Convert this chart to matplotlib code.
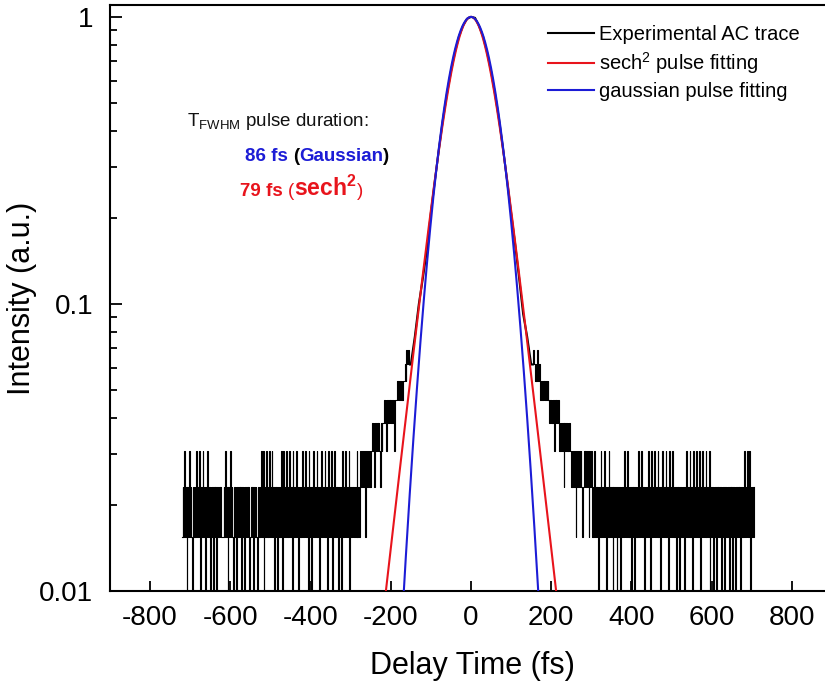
import numpy as np
import matplotlib.pyplot as plt
from matplotlib.lines import Line2D
from matplotlib.ticker import LogLocator, NullFormatter

plt.rcParams['font.family'] = ['Liberation Sans', 'DejaVu Sans']
plt.rcParams['mathtext.fontset'] = 'custom'
plt.rcParams['mathtext.rm'] = 'Liberation Sans'
plt.rcParams['mathtext.bf'] = 'Liberation Sans:bold'
plt.rcParams['axes.unicode_minus'] = False

# measured AC trace, in detector counts (peak ~130 counts)
counts_full_scale = 130.0

wing_step = 2  # fs between samples in the wings / shoulders
left_wing_start = -720
left_wing = ("23242313" "24232132" "32423241" "32423132" "42313231" "32313232"
             "32223242" "31324232" "13231323" "23132313" "23231232" "31323213"
             "23242413" "24232423" "42313231" "32324142" "32423242" "31423242"
             "31323242" "32423142" "31324232" "42313242" "32423142" "32413242"
             "32313231" "42324232" "41323232" "32423243")
left_shoulder_start = -272
left_shoulder = ("343423434343" "454535454543545" "5656465656565646"
                 "6767676767" "78798988")

center_step = 10
center_start = -150
center = [8, 10, 13, 16, 20, 27, 35, 45, 57, 70, 84, 98, 111, 121, 128, 130,
          129, 121, 111, 98, 84, 70, 57, 45, 35, 27, 21, 16, 12, 10, 8]

right_shoulder_start = 154
right_shoulder = ("898787978" "767676767676" "565656465656"
                  "454545354545454" "3434342343434323434343243")
right_wing_start = 300
right_wing = ("42324232" "31324232" "42313242" "32313232" "13231323" "24232423"
              "23132313" "23242324" "23132324" "23142324" "23242313" "24232423"
              "14232423" "23132313" "23231324" "23242314" "23242324" "13242324"
              "23241323" "13231323" "23132313" "23231323" "13231323" "23132324"
              "23242413" "2323")

# fit results (autocorrelation FWHM, fs)
fwhm_ac_gauss = 130.0
fwhm_ac_sech2 = 125.0


def segment(start, step, values):
    vals = np.array([int(v) for v in values], dtype=float) / counts_full_scale
    t = start + step * np.arange(len(vals))
    return t, vals


t_lw, i_lw = segment(left_wing_start, wing_step, left_wing)
t_ls, i_ls = segment(left_shoulder_start, wing_step, left_shoulder)
t_c, i_c = segment(center_start, center_step, center)
t_rs, i_rs = segment(right_shoulder_start, wing_step, right_shoulder)
t_rw, i_rw = segment(right_wing_start, wing_step, right_wing)

t_fit = np.linspace(-320, 320, 1601)
gauss_fit = np.exp(-4 * np.log(2) * (t_fit / fwhm_ac_gauss) ** 2)
sech2_fit = 1.0 / np.cosh(1.7627 * t_fit / fwhm_ac_sech2) ** 2

red = '#e8141c'
blue = '#1c1cd6'

W, H = 825, 692
fig = plt.figure(figsize=(W / 100, H / 100), dpi=100)
ax = fig.add_axes([110 / W, 1 - 591 / H, (832 - 110) / W, (591 - 5) / H])

# noisy wings drawn as steps, smooth centre as a plain line
ax.plot(np.concatenate([t_lw, t_ls]), np.concatenate([i_lw, i_ls]),
        color='black', lw=0.8, drawstyle='steps-mid', zorder=2)
ax.plot(np.concatenate([t_ls[-1:], t_c, t_rs[:1]]),
        np.concatenate([i_ls[-1:], i_c, i_rs[:1]]), color='black', lw=1.5, zorder=2)
ax.plot(np.concatenate([t_rs, t_rw]), np.concatenate([i_rs, i_rw]),
        color='black', lw=0.8, drawstyle='steps-mid', zorder=2)
ax.plot(t_fit, sech2_fit, color=red, lw=1.5, zorder=3)
ax.plot(t_fit, gauss_fit, color=blue, lw=1.5, zorder=4)

ax.set_yscale('log')
ax.set_ylim(0.01, 1.1)
ax.set_xlim(-900, 900)
ax.set_yticks([0.01, 0.1, 1], ['0.01', '0.1', '1'])
ax.yaxis.set_minor_locator(LogLocator(base=10, subs=np.arange(2, 10)))
ax.yaxis.set_minor_formatter(NullFormatter())
ax.set_xticks(np.arange(-800, 801, 200))

for s in ax.spines.values():
    s.set_linewidth(1.5)
ax.tick_params(which='both', direction='in', top=False, right=False, width=1.3)
ax.tick_params(axis='y', which='major', length=8.5, pad=12, labelsize=20)
ax.tick_params(axis='y', which='minor', length=5)
ax.tick_params(axis='x', which='major', length=7, pad=10, labelsize=20)

ax.set_ylabel('Intensity (a.u.)', fontsize=22)
ax.yaxis.set_label_coords((37 - 110) / 722, 0.5)
ax.set_xlabel('Delay Time (fs)', fontsize=22)
ax.xaxis.set_label_coords((472 - 110) / 722, (591 - 651) / 586)

handles = [Line2D([], [], color='black', lw=1.5),
           Line2D([], [], color=red, lw=1.5),
           Line2D([], [], color=blue, lw=1.5)]
labels = ['Experimental AC trace', 'sech$^2$ pulse fitting', 'gaussian pulse fitting']
fig.legend(handles, labels, loc='upper left', bbox_to_anchor=(548 / W, 1 - 25 / H),
           bbox_transform=fig.transFigure, frameon=False, fontsize=14.5,
           handlelength=2.3, handletextpad=0.25, labelspacing=0.3,
           borderpad=0, borderaxespad=0)


def text_parts(x, y, pieces):
    prev = None
    for s, color, size, weight in pieces:
        kw = dict(color=color, fontsize=size, fontweight=weight, va='baseline',
                  ha='left', annotation_clip=False)
        if prev is None:
            prev = ax.annotate(s, xy=(x / W, 1 - y / H), xycoords='figure fraction', **kw)
        else:
            prev = ax.annotate(s, xy=(1, 1 - y / H), xycoords=(prev, 'figure fraction'), **kw)


text_parts(187, 126, [(r'T$_{\mathregular{FWHM}}$ pulse duration:', '#111111', 13.5, 'normal')])
text_parts(245, 161, [('86 fs ', blue, 13.5, 'bold'), ('(', 'black', 13.5, 'bold'),
                      ('Gaussian', blue, 13.5, 'bold'), (')', 'black', 13.5, 'bold')])
text_parts(240, 196, [('79 fs ', red, 13.5, 'bold'), ('(', red, 13.5, 'normal'),
                      (r'sech$^{\mathbf{2}}$', red, 16.5, 'bold'), (')', red, 13.5, 'normal')])

fig.savefig('out.png', dpi=100)
